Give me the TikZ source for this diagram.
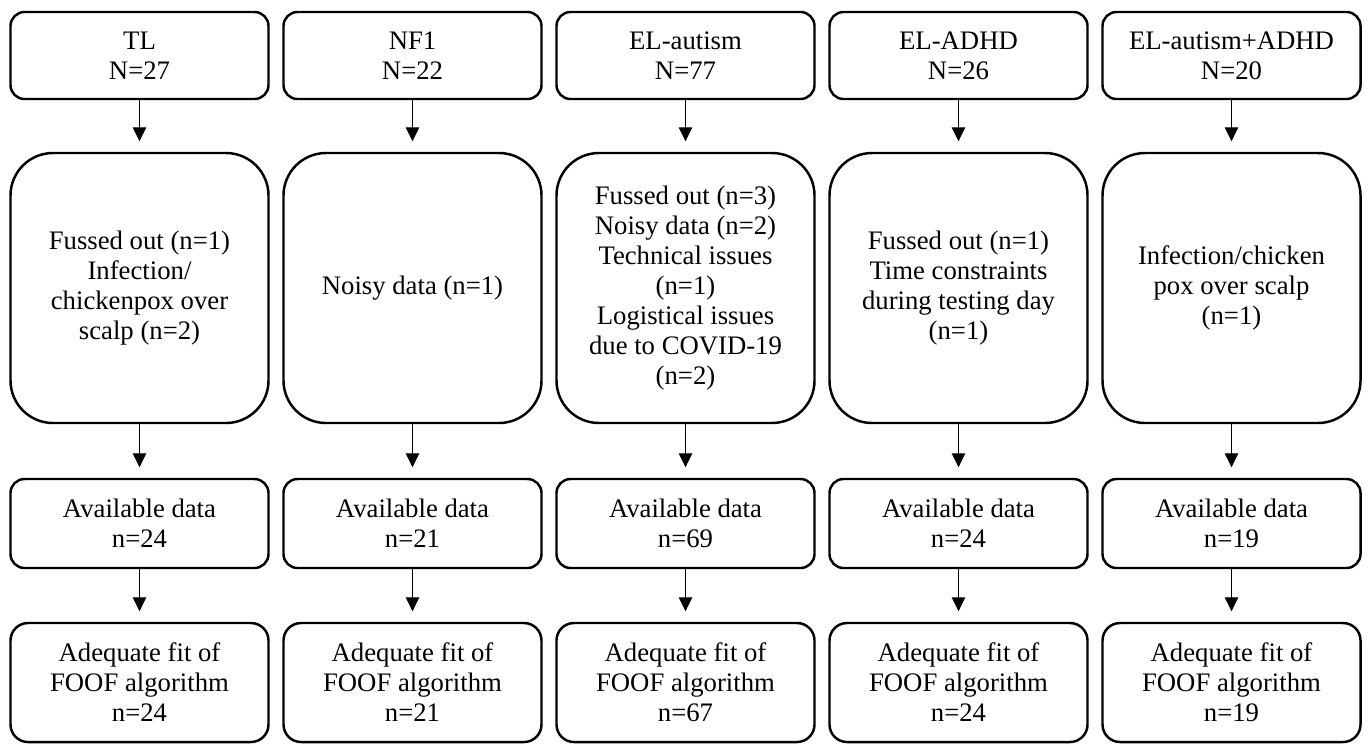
\documentclass[tikz,border=0pt]{standalone}
\usepackage{fontspec}
\setmainfont{Liberation Serif}
\usetikzlibrary{arrows.meta}

\tikzset{
  plainbox/.style={rectangle,draw,line width=1.4pt,rounded corners=0.28cm,
    minimum width=5.16cm,align=center,inner sep=0pt,
    font=\fontsize{15.2}{17.1}\selectfont},
  stagebox/.style={plainbox,execute at begin node={\rule{0pt}{19pt}}},
  dropbox/.style={plainbox,rounded corners=0.85cm,minimum height=5.4cm},
  flow/.style={-{Triangle[length=0.28cm,width=0.27cm]},line width=0.6pt,
    shorten >=0.21cm}
}

\begin{document}
\begin{tikzpicture}
      \useasboundingbox (0,0) rectangle (27.4,-14.88);

      % groups
      \node[stagebox,minimum height=1.74cm] (tl) at (2.79,-1.11)
           {TL\\N=27};
      \node[stagebox,minimum height=1.74cm] (nf) at (8.25,-1.11)
           {NF1\\N=22};
      \node[stagebox,minimum height=1.74cm] (aut) at (13.71,-1.11)
           {EL-autism\\N=77};
      \node[stagebox,minimum height=1.74cm] (adhd) at (19.17,-1.11)
           {EL-ADHD\\N=26};
      \node[stagebox,minimum height=1.74cm] (both) at (24.63,-1.11)
           {EL-autism+ADHD\\N=20};

      % exclusions
      \node[dropbox] (tlout) at (2.79,-5.76)
           {Fussed out (n=1)\\Infection/\\chickenpox over\\scalp (n=2)};
      \node[dropbox] (nfout) at (8.25,-5.76)
           {Noisy data (n=1)};
      \node[dropbox] (autout) at (13.71,-5.76)
           {Fussed out (n=3)\\Noisy data (n=2)\\Technical issues\\(n=1)\\
            Logistical issues\\due to COVID-19\\(n=2)};
      \node[dropbox] (adhdout) at (19.17,-5.76)
           {Fussed out (n=1)\\Time constraints\\during testing day\\(n=1)};
      \node[dropbox] (bothout) at (24.63,-5.76)
           {Infection/chicken\\pox over scalp\\(n=1)};

      % available data
      \node[stagebox,minimum height=1.78cm] (tlav) at (2.79,-10.47)
           {Available data\\n=24};
      \node[stagebox,minimum height=1.78cm] (nfav) at (8.25,-10.47)
           {Available data\\n=21};
      \node[stagebox,minimum height=1.78cm] (autav) at (13.71,-10.47)
           {Available data\\n=69};
      \node[stagebox,minimum height=1.78cm] (adhdav) at (19.17,-10.47)
           {Available data\\n=24};
      \node[stagebox,minimum height=1.78cm] (bothav) at (24.63,-10.47)
           {Available data\\n=19};

      % FOOF fit
      \node[stagebox,minimum height=2.38cm,rounded corners=0.35cm] (tlfit) at (2.79,-13.65)
           {Adequate fit of\\FOOF algorithm\\n=24};
      \node[stagebox,minimum height=2.38cm,rounded corners=0.35cm] (nffit) at (8.25,-13.65)
           {Adequate fit of\\FOOF algorithm\\n=21};
      \node[stagebox,minimum height=2.38cm,rounded corners=0.35cm] (autfit) at (13.71,-13.65)
           {Adequate fit of\\FOOF algorithm\\n=67};
      \node[stagebox,minimum height=2.38cm,rounded corners=0.35cm] (adhdfit) at (19.17,-13.65)
           {Adequate fit of\\FOOF algorithm\\n=24};
      \node[stagebox,minimum height=2.38cm,rounded corners=0.35cm] (bothfit) at (24.63,-13.65)
           {Adequate fit of\\FOOF algorithm\\n=19};

      \draw[flow] (tl) -- (tlout);
      \draw[flow] (nf) -- (nfout);
      \draw[flow] (aut) -- (autout);
      \draw[flow] (adhd) -- (adhdout);
      \draw[flow] (both) -- (bothout);

      \draw[flow] (tlout) -- (tlav);
      \draw[flow] (nfout) -- (nfav);
      \draw[flow] (autout) -- (autav);
      \draw[flow] (adhdout) -- (adhdav);
      \draw[flow] (bothout) -- (bothav);

      \draw[flow] (tlav) -- (tlfit);
      \draw[flow] (nfav) -- (nffit);
      \draw[flow] (autav) -- (autfit);
      \draw[flow] (adhdav) -- (adhdfit);
      \draw[flow] (bothav) -- (bothfit);
\end{tikzpicture}
\end{document}
